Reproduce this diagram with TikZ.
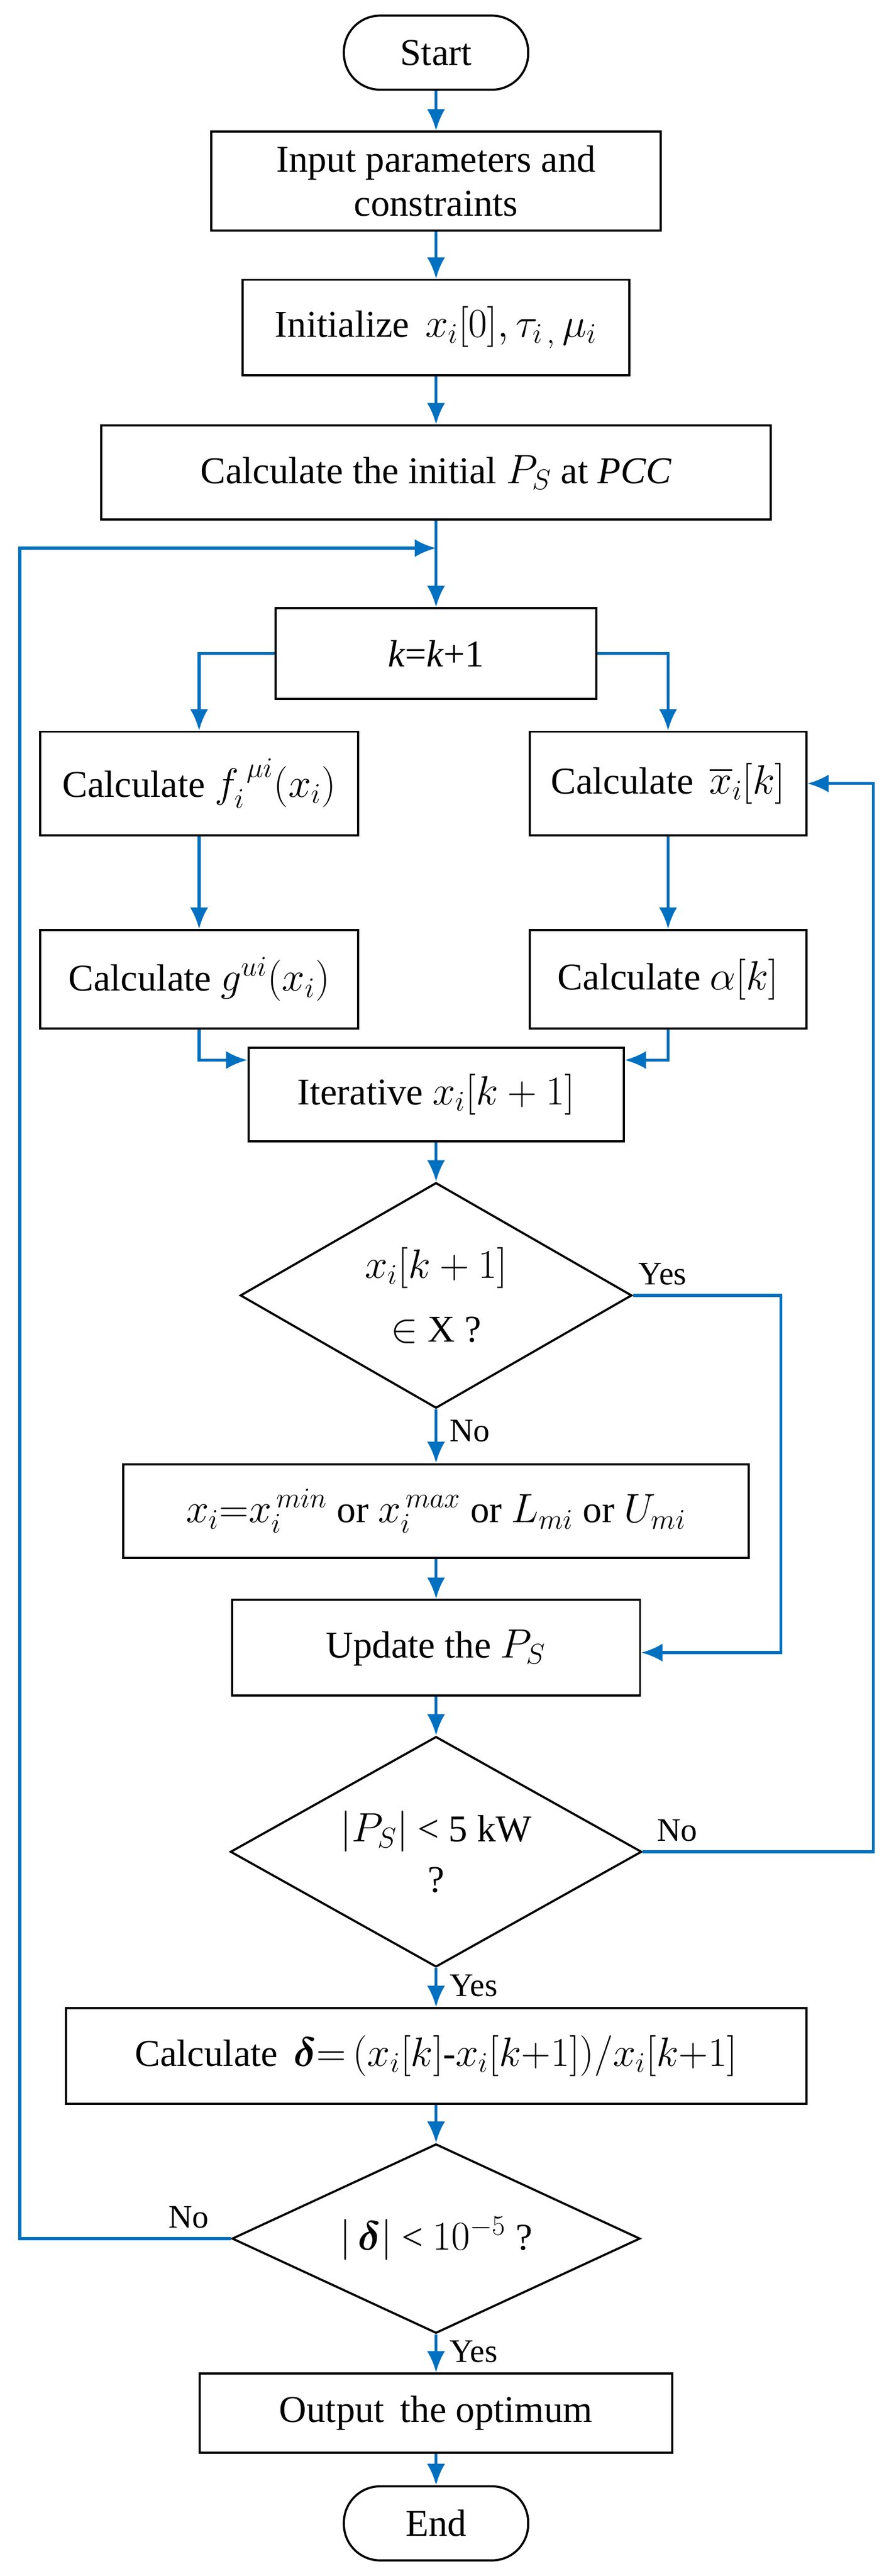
\documentclass[tikz,border=0pt]{standalone}
\usepackage{amsmath,bm}
\usepackage{fontspec}
\setmainfont{Liberation Serif}
\usetikzlibrary{shapes.geometric,arrows.meta}
\definecolor{flowblue}{RGB}{0,112,192}
\tikzset{
  box/.style={draw,line width=1.3pt,inner sep=2pt,align=center},
  term/.style={box,rounded corners=22pt,minimum width=112pt,minimum height=45pt},
  dec/.style={draw,line width=1.3pt,diamond,aspect=1.75,inner sep=0pt,align=center},
  flow/.style={draw=flowblue,line width=1.8pt,-{Latex[length=13pt,width=11pt]}},
  lab/.style={font=\fontsize{20}{24}\selectfont}
}
\begin{document}
\begin{tikzpicture}[x=1pt,y=-1pt,font=\fontsize{23}{27}\selectfont]
    \useasboundingbox (0,0) rectangle (540,1565);
    % main column
    \node[term] (start) at (265,32) {Start};
    \node[box,minimum width=273pt,minimum height=60pt] (input) at (265,110)
        {Input parameters and\\constraints};
    \node[box,minimum width=235pt,minimum height=58pt] (init) at (265,199)
        {Initialize\, $x_i[0],\tau_{i\,,}\,\mu_i$};
    \node[box,minimum width=407pt,minimum height=57pt] (ps0) at (265,287)
        {Calculate the initial $P_S$ at \textit{PCC}};
    \coordinate (loop) at (265,333);
    \coordinate (back) at (12,333);
    \node[box,minimum width=195pt,minimum height=55pt] (kk) at (265,397)
        {\textit{k}=\textit{k}+1};
    % two branches
    \node[box,minimum width=193pt,minimum height=63pt] (fcalc) at (121,476)
        {Calculate $f_i^{\;\mu i}(x_i)$};
    \node[box,minimum width=168pt,minimum height=63pt] (xbar) at (406,476)
        {Calculate\, $\overline{x}_i[k]$};
    \node[box,minimum width=193pt,minimum height=60pt] (gcalc) at (121,595)
        {Calculate $g^{ui}(x_i)$};
    \node[box,minimum width=168pt,minimum height=60pt] (alpha) at (406,595)
        {Calculate $\alpha[k]$};
    \node[box,minimum width=228pt,minimum height=57pt] (iter) at (265,665)
        {Iterative $x_i[k+1]$};
    % checks
    \node[dec,minimum width=238pt,minimum height=137pt] (inx) at (265,787)
        {$x_i[k+1]$\\[12pt]$\in$ X ?};
    \node[box,minimum width=380pt,minimum height=57pt] (clip) at (265,918)
        {$x_i{=}x_i^{\,min}$ or $x_i^{\,max}$ or $L_{mi}$ or $U_{mi}$};
    \node[box,minimum width=248pt,minimum height=58pt] (upd) at (265,1001)
        {Update the $P_S$};
    \node[dec,minimum width=250pt,minimum height=140pt] (pscheck) at (265,1125)
        {$|P_S|$ < 5 kW\\[4pt]?};
    \node[box,minimum width=450pt,minimum height=58pt] (delta) at (265,1249)
        {Calculate\, $\bm{\delta}{=}\,(x_i[k]\text{-}x_i[k{+}1])/x_i[k{+}1]$};
    \node[dec,minimum width=248pt,minimum height=115pt] (dcheck) at (265,1360)
        {$|\,\bm{\delta}|$ < $10^{-5}$ ?};
    \node[box,minimum width=287pt,minimum height=48pt] (out) at (265,1466)
        {Output\, the optimum};
    \node[term] (end) at (265,1533) {End};
    % connectors
    \draw[flow] (start) -- (input);
    \draw[flow] (input) -- (init);
    \draw[flow] (init) -- (ps0);
    \draw[flow] (ps0) -- (kk);
    \draw[flow] (kk.west) -| (fcalc.north);
    \draw[flow] (kk.east) -| (xbar.north);
    \draw[flow] (fcalc) -- (gcalc);
    \draw[flow] (xbar) -- (alpha);
    \draw[flow] (gcalc.south) |- ([yshift=21pt]iter.west);
    \draw[flow] (alpha.south) |- ([yshift=21pt]iter.east);
    \draw[flow] (iter) -- (inx);
    \draw[flow] (inx) -- node[lab,pos=0.4,right=4pt] {No} (clip);
    \draw[flow] (inx.east) -- ++(90,0) node[lab,pos=0.2,above=2pt] {Yes}
        |- ([yshift=-3pt]upd.east);
    \draw[flow] (clip) -- (upd);
    \draw[flow] (upd) -- (pscheck);
    \draw[flow] (pscheck.east) -- ++(140,0) node[lab,pos=0.15,above=2pt] {No}
        |- (xbar.east);
    \draw[flow] (pscheck) -- node[lab,pos=0.45,right=4pt] {Yes} (delta);
    \draw[flow] (delta) -- (dcheck);
    \draw[flow] (dcheck.west) -- node[lab,pos=0.2,above=2pt] {No} (12,1360)
        -- (back) -- (loop);
    \draw[flow] (dcheck) -- node[lab,pos=0.45,right=4pt] {Yes} (out);
    \draw[flow] (out) -- (end);
\end{tikzpicture}
\end{document}
